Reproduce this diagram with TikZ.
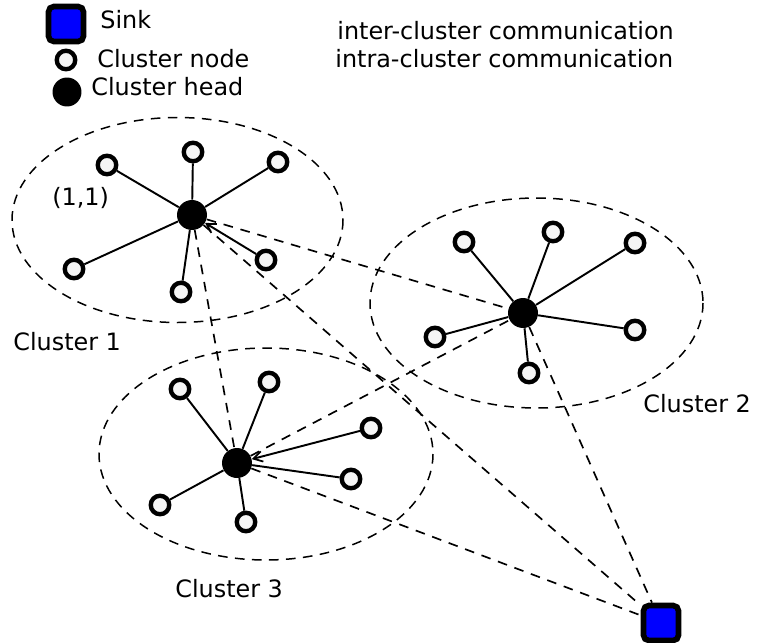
\documentclass[tikz,border=0pt]{standalone}
\usepackage{fontspec}
\setmainfont{DejaVu Sans}
\usetikzlibrary{arrows.meta}
\tikzset{
  cnode/.style={circle, draw=black, line width=2.5pt, fill=black!4, minimum size=0.37cm, inner sep=0pt},
  chead/.style={circle, fill=black, minimum size=0.6cm, inner sep=0pt},
  sinkbox/.style={draw=black, line width=3.2pt, fill=blue, rounded corners=3pt, minimum size=0.7cm, inner sep=0pt},
  region/.style={draw=black, line width=0.85pt, dash pattern=on 5.5pt off 4.2pt},
  intra/.style={draw=black, line width=1.1pt},
  inter/.style={draw=black, line width=0.95pt, dash pattern=on 5.5pt off 4.5pt},
  lbl/.style={font=\fontsize{13.6}{16}\selectfont, inner sep=0pt, anchor=base west},
  barb/.style={-{Straight Barb[length=5pt,width=6pt,line width=1pt]}},
}
\begin{document}
\begin{tikzpicture}[x=0.02cm, y=-0.02cm]
\useasboundingbox (0,0) rectangle (763,642);

% cluster regions
\draw[region] (177.5,220) ellipse [x radius=165.5, y radius=102.5];
\draw[region] (536.5,303) ellipse [x radius=166.5, y radius=105];
\draw[region] (266,454) ellipse [x radius=167, y radius=106];

% legend
\node[sinkbox] (lsink) at (66,24) {};
\node[lbl] (tsink) at (100,29) {Sink};
\node[cnode] (lnode) at (66,60) {};
\node[lbl] (tnode) at (97,68) {Cluster node};
\node[chead, minimum size=0.58cm] (lhead) at (67,92) {};
\node[lbl] (thead) at (91,95) {Cluster head};
\node[lbl] (tinter) at (337,40) {inter-cluster communication};
\node[lbl] (tintra) at (335,68) {intra-cluster communication};

% cluster heads and sink
\node[chead] (h1) at (192,215) {};
\node[chead] (h2) at (523,313) {};
\node[chead] (h3) at (237,463) {};
\node[sinkbox] (sink) at (661,623) {};

% cluster 1 members
\node[cnode] (a1) at (107,165) {};
\node[cnode] (a2) at (193,152) {};
\node[cnode] (a3) at (278,162) {};
\node[cnode] (a4) at (74,269) {};
\node[cnode] (a5) at (266,260) {};
\node[cnode] (a6) at (181,292) {};

% cluster 2 members
\node[cnode] (b1) at (464,242) {};
\node[cnode] (b2) at (553,232) {};
\node[cnode] (b3) at (635,243) {};
\node[cnode] (b4) at (435,337) {};
\node[cnode] (b5) at (635,330) {};
\node[cnode] (b6) at (529,373) {};

% cluster 3 members
\node[cnode] (c1) at (180,389) {};
\node[cnode] (c2) at (269,382) {};
\node[cnode] (c3) at (371,428) {};
\node[cnode] (c4) at (351,479) {};
\node[cnode] (c5) at (160,505) {};
\node[cnode] (c6) at (246,522) {};

% inter-cluster links
\draw[inter] (h1) -- (h2);
\draw[inter] (h1) -- (h3);
\draw[inter] (h1) -- (sink);
\draw[inter] (h3) -- (h2);
\draw[inter] (h3) -- (sink);
\draw[inter] (h2) -- (sink);

% intra-cluster links
\foreach \m in {a1,a2,a3,a4,a6} \draw[intra] (\m) -- (h1);
\draw[intra, barb] (a5) -- (h1);
\foreach \m in {b1,b2,b3,b4,b5,b6} \draw[intra] (\m) -- (h2);
\foreach \m in {c1,c2,c4,c5,c6} \draw[intra] (\m) -- (h3);
\draw[intra, barb] (c3) -- (h3);

% labels
\node[lbl] (t11) at (52,205) {(1,1)};
\node[lbl] (tc1) at (13,350) {Cluster 1};
\node[lbl] (tc2) at (643,412) {Cluster 2};
\node[lbl] (tc3) at (175,597) {Cluster 3};
\end{tikzpicture}
\end{document}
